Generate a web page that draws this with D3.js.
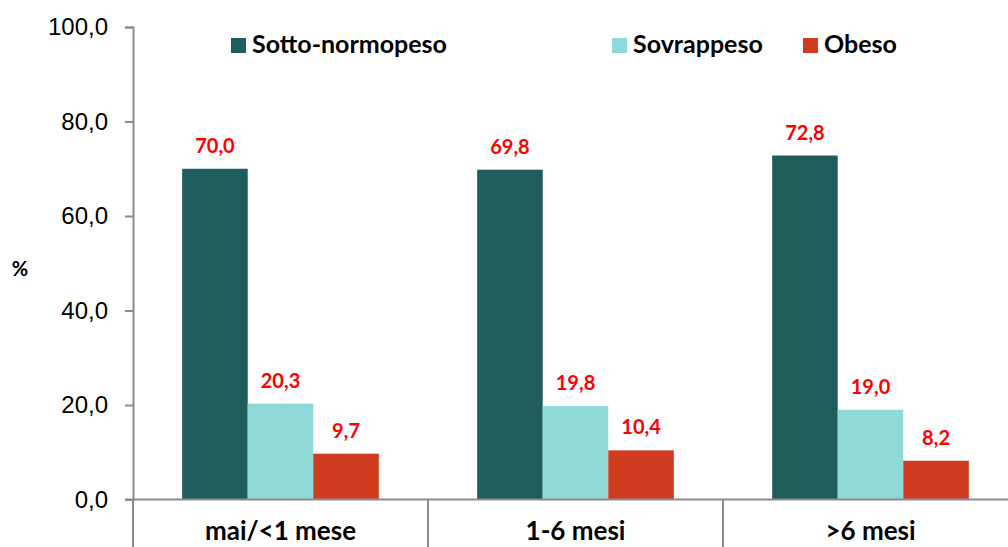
<!DOCTYPE html>
<html>
<head>
<meta charset="utf-8">
<script src="https://cdn.jsdelivr.net/npm/d3@7"></script>
<style>
  body { margin: 0; background: #fff; }
  svg { display: block; font-family: Lato, "Open Sans", sans-serif; }
</style>
</head>
<body>
<div id="viz"></div>
<script>
var categories = ["mai/<1 mese", "1-6 mesi", ">6 mesi"];
var series = ["Sotto-normopeso", "Sovrappeso", "Obeso"];
var sottoNormopeso = [70.0, 69.8, 72.8];
var sovrappeso = [20.3, 19.8, 19.0];
var obeso = [9.7, 10.4, 8.2];
var yTicks = [0, 20, 40, 60, 80, 100];

var width = 1008,
    height = 547;

var svg = d3.select("#viz")
    .append("svg")
    .attr("width", width)
    .attr("height", height);

var color = d3.scaleOrdinal()
    .domain(series)
    .range(["#1F5C5C", "#8FDAD8", "#D03C1F"]);

var values = [sottoNormopeso, sovrappeso, obeso];
var rows = [];
categories.forEach(function(c, i) {
  series.forEach(function(s, j) {
    rows.push({cat: c, series: s, value: values[j][i]});
  });
});

var x0 = d3.scaleBand()
    .domain(categories)
    .range([133, 1018]);

var x1 = d3.scaleBand()
    .domain(series)
    .range([0, x0.bandwidth()])
    .paddingOuter(0.75)
    .paddingInner(0);

var y = d3.scaleLinear()
    .domain([0, 100])
    .range([499.5, 27]);

var fmt = function(v) { return d3.format(".1f")(v).replace(".", ","); };

// ****************** y axis ***************************
var yAxis = svg.append("g")
    .attr("transform", "translate(133,0)")
    .call(d3.axisLeft(y).tickValues(yTicks).tickFormat(fmt).tickSize(8).tickPadding(17));

yAxis.select(".domain").attr("stroke", "#8c8c8c").attr("stroke-width", 2);
yAxis.selectAll(".tick line").attr("stroke", "#8c8c8c").attr("stroke-width", 2);
yAxis.selectAll(".tick text")
    .attr("fill", "#000")
    .style("font-size", "24px");

svg.append("text")
    .attr("x", 20)
    .attr("y", 276)
    .attr("text-anchor", "middle")
    .style("font-size", "20px")
    .style("font-weight", "bold")
    .text("%");

// ****************** bars ***************************
svg.append("g")
  .selectAll("rect")
  .data(rows)
  .enter().append("rect")
    .attr("x", function(d) { return x0(d.cat) + x1(d.series); })
    .attr("y", function(d) { return y(d.value); })
    .attr("width", x1.bandwidth())
    .attr("height", function(d) { return y(0) - y(d.value); })
    .attr("fill", function(d) { return color(d.series); });

svg.append("g")
  .selectAll("text")
  .data(rows)
  .enter().append("text")
    .attr("x", function(d) { return x0(d.cat) + x1(d.series) + x1.bandwidth() / 2; })
    .attr("y", function(d) { return y(d.value) - 16; })
    .attr("text-anchor", "middle")
    .attr("fill", "#FF0000")
    .style("font-size", "20px")
    .style("font-weight", "bold")
    .text(function(d) { return fmt(d.value); });

// ****************** x axis ***************************
var xAxis = svg.append("g")
    .attr("transform", "translate(0," + y(0) + ")");

xAxis.append("line")
    .attr("x1", 125)
    .attr("x2", width)
    .attr("stroke", "#8c8c8c")
    .attr("stroke-width", 2);

xAxis.selectAll(".sep")
  .data(categories)
  .enter().append("line")
    .attr("class", "sep")
    .attr("x1", function(d) { return x0(d); })
    .attr("x2", function(d) { return x0(d); })
    .attr("y1", 0)
    .attr("y2", 50)
    .attr("stroke", "#8c8c8c")
    .attr("stroke-width", 2);

xAxis.selectAll(".cat")
  .data(categories)
  .enter().append("text")
    .attr("class", "cat")
    .attr("x", function(d) { return x0(d) + x0.bandwidth() / 2; })
    .attr("y", 40)
    .attr("text-anchor", "middle")
    .style("font-size", "26px")
    .style("font-weight", "bold")
    .text(function(d) { return d; });

// ****************** legend ***************************
var legendX = [231, 612, 803];
var legend = svg.append("g")
  .selectAll("g")
  .data(series)
  .enter().append("g")
    .attr("transform", function(d, i) { return "translate(" + legendX[i] + ",38)"; });

legend.append("rect")
    .attr("width", 15)
    .attr("height", 15)
    .attr("fill", function(d) { return color(d); });

legend.append("text")
    .attr("x", 21)
    .attr("y", 15)
    .style("font-size", "25px")
    .style("font-weight", "bold")
    .text(function(d) { return d; });
</script>
</body>
</html>
